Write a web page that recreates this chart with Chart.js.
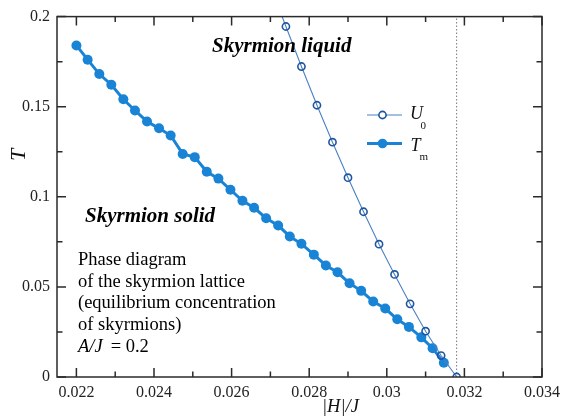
<!DOCTYPE html>
<html><head><meta charset="utf-8">
<script src="https://cdn.jsdelivr.net/npm/chart.js@4.4.1/dist/chart.umd.min.js"></script>
<style>html,body{margin:0;padding:0;background:#fff}#wrap{width:569px;height:418px}</style>
</head><body><div id="wrap"><canvas id="c" width="569" height="418"></canvas></div>
<script>
// ---- data ----
const fieldTm = [0.02200,0.02229,0.02259,0.02290,0.02321,0.02351,0.02382,0.02413,0.02443,0.02474,0.02505,0.02536,0.02566,0.02597,0.02628,0.02658,0.02689,0.02720,0.02750,0.02780,0.02812,0.02843,0.02873,0.02904,0.02934,0.02965,0.02996,0.03027,0.03057,0.03089,0.03118,0.03147];
const tempTm  = [0.1840,0.1761,0.1681,0.1622,0.1541,0.1479,0.1418,0.1380,0.1340,0.1238,0.1220,0.1139,0.1101,0.1039,0.0978,0.0939,0.0881,0.0841,0.0780,0.0739,0.0679,0.0619,0.0581,0.0520,0.0478,0.0419,0.0380,0.0320,0.0278,0.0220,0.0160,0.0079];
const fieldU0 = [0.0270,0.0274,0.0278,0.0282,0.0286,0.0290,0.0294,0.0298,0.0302,0.0306,0.0310,0.0314,0.0318];
const tempU0  = [0.2170,0.1945,0.1723,0.1508,0.1303,0.1106,0.0917,0.0737,0.0569,0.0406,0.0254,0.0119,0.0000];
const criticalField = 0.0318;
const criticalTRange = [0, 0.2];
const xTicks = [0.022,0.024,0.026,0.028,0.030,0.032,0.034];
const xMinorTicks = [0.023,0.025,0.027,0.029,0.031,0.033];
const yTicks = [0,0.05,0.1,0.15,0.2];
const yMinorTicks = [0.025,0.075,0.125,0.175];
const xLabel = ['|', 'H', '|/', 'J'];
const yLabel = 'T';
const phaseLiquid = 'Skyrmion liquid';
const phaseSolid = 'Skyrmion solid';
const noteLines = ['Phase diagram','of the skyrmion lattice','(equilibrium concentration','of skyrmions)'];
const noteParam = ['A/J', ' = 0.2'];
const legendU0 = ['U','0'];
const legendTm = ['T','m'];

const colTm = '#1984d5';
const colU0 = '#1f55a0';
const colU0line = '#4a82c4';
const frame = '#2a2a2a';
const serif = "Liberation Serif, Times New Roman, serif";
Chart.defaults.font.family = serif;

const fmt = v => String(+v.toFixed(4));

const decor = {
  id: 'decor',
  afterDraw(chart) {
    const ctx = chart.ctx, a = chart.chartArea;
    const xs = chart.scales.x, ys = chart.scales.y;
    ctx.save();
    // frame
    ctx.strokeStyle = frame; ctx.lineWidth = 1.5;
    ctx.strokeRect(a.left, a.top, a.right - a.left, a.bottom - a.top);
    ctx.beginPath();
    const tick = (v, len, horiz) => {
      if (horiz) {
        const p = xs.getPixelForValue(v);
        ctx.moveTo(p, a.bottom); ctx.lineTo(p, a.bottom - len);
        ctx.moveTo(p, a.top); ctx.lineTo(p, a.top + len);
      } else {
        const p = ys.getPixelForValue(v);
        ctx.moveTo(a.left, p); ctx.lineTo(a.left + len, p);
        ctx.moveTo(a.right, p); ctx.lineTo(a.right - len, p);
      }
    };
    xTicks.forEach(v => tick(v, 9, true));
    xMinorTicks.forEach(v => tick(v, 5.5, true));
    yTicks.forEach(v => tick(v, 9, false));
    yMinorTicks.forEach(v => tick(v, 5.5, false));
    ctx.stroke();

    // axis titles
    ctx.fillStyle = '#111';
    ctx.font = 'italic 22px ' + serif;
    ctx.textAlign = 'center'; ctx.textBaseline = 'middle';
    ctx.save(); ctx.translate(19, 155); ctx.rotate(-Math.PI / 2);
    ctx.fillText(yLabel, 0, 0); ctx.restore();

    ctx.font = 'italic 18.5px ' + serif;
    ctx.textAlign = 'left';
    let xl = 322;
    xLabel.forEach(s => { ctx.fillText(s, xl, 407); xl += ctx.measureText(s).width; });

    // phase names
    ctx.fillStyle = '#000';
    ctx.font = 'italic bold 21px ' + serif;
    ctx.textBaseline = 'alphabetic';
    ctx.fillText(phaseLiquid, 212, 52, 146);
    ctx.fillText(phaseSolid, 85, 222, 137);

    // note text
    ctx.font = '18.5px ' + serif;
    ctx.textBaseline = 'middle';
    noteLines.forEach((s, i) => ctx.fillText(s, 78, 260 + i * 21.7));
    const yp = 260 + 4 * 21.7;
    ctx.font = 'italic 18.5px ' + serif;
    ctx.fillText(noteParam[0], 78, yp);
    ctx.font = '18.5px ' + serif;
    ctx.fillText(noteParam[1], 78 + 28, yp);

    // legend
    const lx0 = 367, lx1 = 402, lxm = 384.5;
    ctx.strokeStyle = colU0line; ctx.lineWidth = 1.2;
    ctx.beginPath(); ctx.moveTo(lx0, 115); ctx.lineTo(lx1, 115); ctx.stroke();
    ctx.strokeStyle = colU0; ctx.lineWidth = 1.6; ctx.fillStyle = '#fff';
    ctx.beginPath(); ctx.arc(lxm - 2, 115, 3.6, 0, 2 * Math.PI); ctx.fill(); ctx.stroke();
    ctx.strokeStyle = colTm; ctx.lineWidth = 3;
    ctx.beginPath(); ctx.moveTo(lx0, 143.5); ctx.lineTo(lx1, 143.5); ctx.stroke();
    ctx.fillStyle = colTm;
    ctx.beginPath(); ctx.arc(lxm - 2, 143.5, 4.8, 0, 2 * Math.PI); ctx.fill();

    ctx.fillStyle = '#111';
    ctx.font = 'italic 18px ' + serif;
    ctx.fillText(legendU0[0], 410, 114);
    ctx.fillText(legendTm[0], 410.5, 146);
    ctx.font = '11px ' + serif;
    ctx.fillText(legendU0[1], 420.5, 126.5);
    ctx.fillText(legendTm[1], 419.5, 157.5);
    ctx.restore();
  }
};

new Chart(document.getElementById('c'), {
  type: 'line',
  data: {
    datasets: [
      {
        label: 'U0',
        data: fieldU0.map((x, i) => ({x, y: tempU0[i]})),
        borderColor: colU0line, borderWidth: 1.1,
        pointRadius: 3.6, pointBorderWidth: 1.6,
        pointBorderColor: colU0, pointBackgroundColor: 'rgba(0,0,0,0)',
        fill: false, tension: 0
      },
      {
        label: 'Tm',
        data: fieldTm.map((x, i) => ({x, y: tempTm[i]})),
        borderColor: colTm, borderWidth: 3,
        pointRadius: 5, pointBorderWidth: 0,
        pointBackgroundColor: colTm, pointBorderColor: colTm,
        fill: false, tension: 0
      },
      {
        label: 'critical',
        data: criticalTRange.map(y => ({x: criticalField, y})),
        borderColor: '#777', borderWidth: 1, borderDash: [1.5, 2],
        pointRadius: 0, fill: false
      }
    ]
  },
  options: {
    responsive: false, animation: false, devicePixelRatio: 1,
    layout: { padding: { top: 13, right: 27, left: 0, bottom: 0 } },
    plugins: { legend: { display: false }, tooltip: { enabled: false } },
    scales: {
      x: {
        type: 'linear', min: 0.0215, max: 0.034,
        afterBuildTicks: s => { s.ticks = xTicks.map(v => ({value: v})); },
        afterFit: s => { s.height = 41; },
        grid: { display: false, drawTicks: false },
        border: { display: false },
        ticks: { callback: v => fmt(v), color: '#222', padding: 6,
                 font: { family: serif, size: 16 }, maxRotation: 0, autoSkip: false }
      },
      y: {
        type: 'linear', min: 0, max: 0.2,
        afterBuildTicks: s => { s.ticks = yTicks.map(v => ({value: v})); },
        afterFit: s => { s.width = 57; },
        grid: { display: false, drawTicks: false },
        border: { display: false },
        ticks: { callback: v => fmt(v), color: '#222', padding: 7,
                 font: { family: serif, size: 16 }, autoSkip: false }
      }
    }
  },
  plugins: [decor]
});
</script>
</body></html>
